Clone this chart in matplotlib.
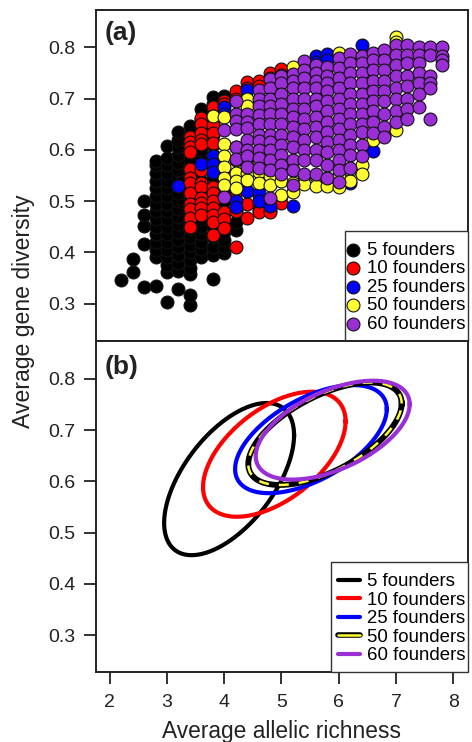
import numpy as np
import matplotlib
matplotlib.use('Agg')
import matplotlib.pyplot as plt
from matplotlib.lines import Line2D
from matplotlib.patches import Rectangle
import matplotlib.patheffects as pe

plt.rcParams['font.family'] = ['Liberation Sans', 'DejaVu Sans']

LABELS = ['5 founders', '10 founders', '25 founders', '50 founders', '60 founders']
COLORS = ['#000000', '#ff0000', '#0000ff', '#ffff33', '#9a2fd6']

# panel (a): allelic richness sits on a 0.2 grid, so one x per column of points
x_5 = [2.2, 2.4, 2.6, 2.8, 3.0, 3.2, 3.4, 3.6, 3.8, 4.0, 4.2]
y_5 = [
    [.347],
    [.362, .388],
    [.332, .417, .452, .472, .501],
    [.334, .39, .405, .42, .435, .45, .465, .48, .495, .51, .525, .54, .555, .57, .579],
    [.304, .362, .375, .39, .405, .42, .435, .45, .465, .48, .495, .51, .525, .54, .555, .57, .585, .607],
    [.329, .364, .38, .395, .41, .425, .44, .455, .47, .485, .5, .515, .53, .545, .56, .575, .59, .605, .62, .635],
    [.297, .316, .357, .37, .385, .4, .415, .43, .445, .46, .475, .49, .505, .52, .535, .55, .565, .58, .595, .61, .63, .646],
    [.39, .407, .42, .435, .45, .465, .48, .5, .52, .54, .56, .58, .6, .62, .64, .66, .68],
    [.349, .394, .41, .43, .45, .47, .49, .51, .53, .55, .57, .59, .61, .63, .65, .67, .69, .703],
    [.399, .41, .425, .44, .46, .48, .5, .52, .54, .69, .706],
    [.443, .46, .48, .50, .52],
]

x_10 = [3.4, 3.6, 3.8, 4.0, 4.2, 4.4, 4.6, 4.8, 5.0]
y_10 = [
    [.625, .615, .605, .595, .563, .545, .535, .515, .495, .485, .467, .449],
    [.663, .65, .632, .62, .612, .56, .536, .527, .507, .497, .487, .472],
    [.683, .667, .648, .632, .614, .527, .515, .501, .487, .472, .46, .433],
    [.696, .69, .56, .53, .51, .478, .465, .448],
    [.715, .70, .52, .50, .48, .411],
    [.732, .72, .52, .495, .468],
    [.735, .725, .51, .495, .482, .478],
    [.75, .74, .50, .482, .478],
    [.757, .747, .51, .497],
]

x_25 = [3.2, 3.6, 3.8, 4.0, 4.2, 4.4, 4.6, 4.8, 5.2, 5.6, 5.8, 6.2, 6.4, 6.6]
y_25 = [
    [.530],
    [.572],
    [.589, .573, .556],
    [.683, .67],
    [.50, .489],
    [.716, .52],
    [.515, .501],
    [.505, .491],
    [.491],
    [.784, .772],
    [.788, .775],
    [.536],
    [.804],
    [.597],
]

x_50 = [3.8, 4.0, 4.2, 4.4, 4.6, 4.8, 5.0, 5.2, 5.4, 5.6, 5.8, 6.0, 6.2, 6.4, 6.6, 6.8, 7.0]
y_50 = [
    [.667],
    [.664, .612, .589, .566, .546, .532],
    [.605, .58, .555, .54, .525],
    [.70, .685, .57, .555, .542],
    [.60, .575, .556, .536],
    [.57, .55, .532],
    [.58, .54, .511],
    [.761, .56, .535, .517],
    [.55, .534],
    [.55, .53],
    [.545, .53],
    [.79, .57, .55, .528],
    [.56, .54],
    [.57, .552],
    [.62],
    [.63],
    [.82, .81, .638],
]

x_60 = [4.0, 4.2, 4.4, 4.6, 4.8, 5.0, 5.2, 5.4, 5.6, 5.8, 6.0, 6.2, 6.4, 6.6, 6.8, 7.0, 7.2, 7.4, 7.6, 7.8]
y_60 = [
    [.638, .509],
    [.695, .671, .657, .641, .605, .583],
    [.671, .655, .642, .62, .60, .589, .566],
    [.716, .70, .685, .668, .65, .63, .618, .60, .585, .564],
    [.739, .72, .70, .685, .67, .65, .63, .615, .60, .58, .56, .507],
    [.745, .73, .71, .69, .67, .65, .63, .61, .59, .57, .552],
    [.749, .735, .72, .70, .68, .665, .645, .625, .605, .58, .56, .532],
    [.773, .755, .74, .72, .70, .68, .66, .64, .62, .60, .58, .552],
    [.765, .75, .735, .72, .70, .685, .665, .645, .625, .60, .58, .553],
    [.761, .745, .73, .715, .695, .675, .655, .635, .615, .595, .57, .546],
    [.78, .76, .74, .72, .70, .68, .66, .64, .62, .60, .58, .56, .538],
    [.788, .77, .75, .73, .71, .69, .67, .65, .63, .61, .59, .564],
    [.784, .77, .75, .73, .71, .69, .67, .65, .635, .61, .589],
    [.79, .775, .755, .735, .715, .695, .675, .655, .632],
    [.794, .775, .755, .735, .715, .695, .67, .645, .626],
    [.804, .785, .765, .745, .72, .70, .675, .654],
    [.804, .785, .77, .745, .725, .70, .68, .661],
    [.80, .785, .77, .75, .73, .71, .683],
    [.80, .785, .745, .73, .72, .661],
    [.80, .784, .775, .765],
]

# panel (b): ellipse centre, half widths and correlation for each group
ell_cx = [4.085, 4.875, 5.515, 5.76, 5.895]
ell_cy = [.6045, .653, .6825, .693, .70]
ell_ax = [1.135, 1.245, 1.325, 1.34, 1.345]
ell_ay = [.1485, .122, .1055, .10, .0965]
ell_r = [.577, .526, .555, .59, .524]

X_TICKS = [2, 3, 4, 5, 6, 7, 8]
Y_TICKS = [.3, .4, .5, .6, .7, .8]
W, H = 472, 742


def panel(top, bottom):
    ax = fig.add_axes([96 / W, 1 - bottom / H, 371.5 / W, (bottom - top) / H])
    ax.set_xlim(1.76, 8.25)
    ax.set_ylim(.228, .874)
    ax.set_yticks(Y_TICKS)
    ax.set_yticklabels(['%.1f' % v for v in Y_TICKS])
    ax.tick_params(axis='y', length=8.6, width=1.3, labelsize=14, pad=6, color='#222222', labelcolor='#222222')
    for s in ax.spines.values():
        s.set_linewidth(1.4)
        s.set_color('#222222')
    return ax


def flatten(xs, cols):
    px, py = [], []
    for x, col in zip(xs, cols):
        for y in col:
            px.append(x)
            py.append(y)
    return px, py


def legend_box(ax, left_frac, top_frac):
    # white box running out to the panel corner, legend text goes on top of it
    ax.add_patch(Rectangle((left_frac, 0), 1 - left_frac, top_frac, transform=ax.transAxes, facecolor='white',
                           edgecolor='#333333', linewidth=1.0, zorder=4, clip_on=False))


fig = plt.figure(figsize=(W / 100, H / 100), dpi=100)

# (a) scatter
ax1 = panel(9.5, 340.5)
ax1.set_xticks([])
groups = [(x_5, y_5), (x_10, y_10), (x_25, y_25), (x_50, y_50), (x_60, y_60)]
for (xs, cols), c, lab in zip(groups, COLORS, LABELS):
    px, py = flatten(xs, cols)
    ax1.scatter(px, py, s=86, c=c, edgecolors='#111111', linewidths=0.8, label=lab)
ax1.text(0.024, 0.929, '(a)', transform=ax1.transAxes, fontsize=19, fontweight='bold',
         va='center', color='#222222')
legend_box(ax1, 249 / 371.5, 110 / 331)
ax1.legend(loc='lower right', bbox_to_anchor=(1, 6 / 331), borderaxespad=0, fontsize=13.4, frameon=False,
           borderpad=.1, handlelength=.6, handletextpad=.45, labelspacing=.075, scatterpoints=1)

# (b) ellipses
ax2 = panel(341, 672)
ax2.set_xticks(X_TICKS)
ax2.tick_params(axis='x', length=8.6, width=1.3, labelsize=14, pad=7, color='#222222', labelcolor='#222222')
t = np.linspace(0, 2 * np.pi, 300)
handles = []
for i, lab in enumerate(LABELS):
    d = np.arccos(ell_r[i])
    ex = ell_cx[i] + ell_ax[i] * np.cos(t)
    ey = ell_cy[i] + ell_ay[i] * np.cos(t - d)
    if lab == '50 founders':
        ax2.plot(ex, ey, color='black', lw=4.2)
        ax2.plot(ex, ey, color=COLORS[i], lw=1.8, dashes=(4, 4))
        h = Line2D([], [], color=COLORS[i], lw=1.8, solid_capstyle='round',
                   path_effects=[pe.Stroke(linewidth=4, foreground='black'), pe.Normal()])
    else:
        ax2.plot(ex, ey, color=COLORS[i], lw=3)
        h = Line2D([], [], color=COLORS[i], lw=3, solid_capstyle='round')
    handles.append(h)
ax2.text(0.024, 0.921, '(b)', transform=ax2.transAxes, fontsize=19, fontweight='bold',
         va='center', color='#222222')
legend_box(ax2, 235 / 371.5, 110 / 331)
ax2.legend(handles, LABELS, loc='lower right', bbox_to_anchor=(1, 6 / 331), borderaxespad=0, fontsize=13.4,
           frameon=False, borderpad=.1, handlelength=1.2, handletextpad=.36, labelspacing=.075)

ax2.set_xlabel('Average allelic richness', fontsize=16.4, color='#222222', labelpad=7)
fig.text(24 / W, 1 - 311 / H, 'Average gene diversity', rotation=90, fontsize=16.6,
         va='center', ha='center', color='#222222')

fig.savefig('out.png', dpi=100)
